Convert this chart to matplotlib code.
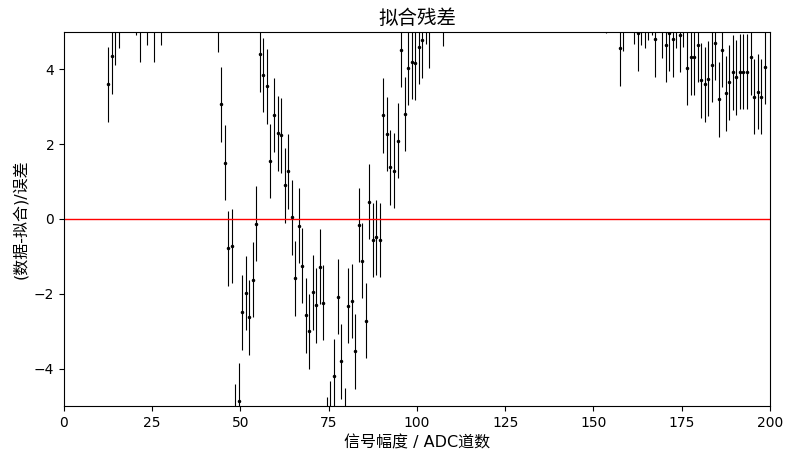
import numpy as np
import matplotlib
matplotlib.use("Agg")
import matplotlib.pyplot as plt

plt.rcParams["font.family"] = ["DejaVu Sans", "Noto Sans CJK SC"]
plt.rcParams["axes.unicode_minus"] = True

# bin centres (ADC channels) and normalised residuals (data - fit) / error
channel = [
    12.5, 13.5, 14.5, 15.5, 20.5, 21.5, 23.5, 25.5, 27.5, 43.5,
    44.5, 45.5, 46.5, 47.5, 48.5, 49.5, 50.5, 51.5, 52.5, 53.5,
    54.5, 55.5, 56.5, 57.5, 58.5, 59.5, 60.5, 61.5, 62.5, 63.5,
    64.5, 65.5, 66.5, 67.5, 68.5, 69.5, 70.5, 71.5, 72.5, 73.5,
    74.5, 75.5, 76.5, 77.5, 78.5, 79.5, 80.5, 81.5, 82.5, 83.5,
    84.5, 85.5, 86.5, 87.5, 88.5, 89.5, 90.5, 91.5, 92.5, 93.5,
    94.5, 95.5, 96.5, 97.5, 98.5, 99.5, 100.5, 101.5, 102.5, 103.5,
    107.5, 153.5, 157.5, 158.5, 161.5, 162.5, 163.5, 164.5, 165.5, 166.5,
    167.5, 169.5, 170.5, 171.5, 172.5, 173.5, 174.5, 175.5, 176.5, 177.5,
    178.5, 179.5, 180.5, 181.5, 182.5, 183.5, 184.5, 185.5, 186.5, 187.5,
    188.5, 189.5, 190.5, 191.5, 192.5, 193.5, 194.5, 195.5, 196.5, 197.5,
    198.5,
]
residual = [
    3.60, 4.35, 5.12, 5.56, 5.92, 5.20, 5.65, 5.20, 5.65, 5.47,
    3.07, 1.51, -0.78, -0.72, -5.42, -4.86, -2.49, -1.98, -2.63, -1.62,
    -0.13, 4.40, 3.85, 3.55, 1.55, 2.78, 2.29, 2.24, 0.90, 1.27,
    0.05, -1.59, -0.18, -1.25, -2.57, -3.00, -1.96, -2.31, -1.28, -2.24,
    -5.75, -5.33, -4.20, -2.08, -3.80, -5.53, -2.32, -2.19, -3.54, -0.16,
    -1.11, -2.72, 0.46, -0.56, -0.49, -0.56, 2.77, 2.27, 1.38, 1.29,
    2.09, 4.52, 2.81, 4.04, 4.20, 4.18, 4.61, 4.78, 5.69, 5.05,
    5.63, 5.96, 4.56, 5.49, 5.68, 4.96, 5.65, 5.58, 5.78, 5.92,
    4.80, 5.31, 4.65, 4.96, 4.80, 5.58, 4.92, 5.60, 4.05, 4.32,
    4.32, 4.65, 3.71, 3.60, 3.75, 4.13, 4.71, 3.20, 4.52, 3.36,
    3.65, 3.92, 3.79, 3.94, 3.94, 3.94, 4.32, 3.27, 3.40, 3.27,
    4.07,
]
err = np.ones(len(residual))

fig = plt.figure(figsize=(7.86, 4.63), dpi=100)
ax = fig.add_axes([0.0814, 0.1231, 0.8982, 0.8078])

ax.errorbar(channel, residual, yerr=err, fmt="o", color="black",
            markersize=1.5, elinewidth=0.8, capsize=0)
ax.axhline(0, color="red", linewidth=1)

ax.set_xlim(0, 200)
ax.set_ylim(-5, 5)
ax.set_title("拟合残差", fontsize=14)
ax.set_xlabel("信号幅度 / ADC道数", fontsize=11.5)
ax.set_ylabel("(数据-拟合)/误差", fontsize=11.5)

fig.savefig("out.png", dpi=100)
